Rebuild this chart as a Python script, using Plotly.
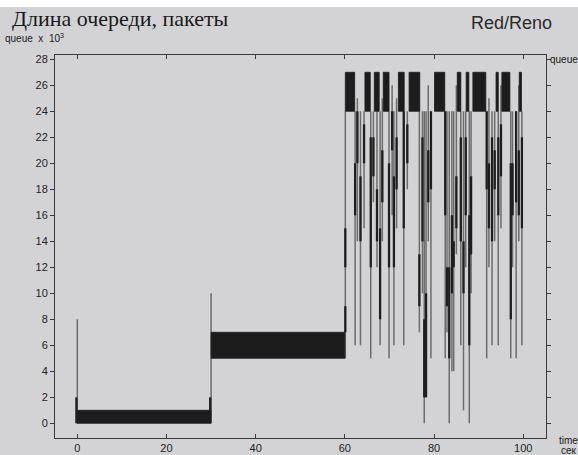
import plotly.graph_objects as go

# ---------------- data ----------------
# solid bands (fast oscillation regions): start, end, low, high  (queue x 10^3)
band_x0 = [0.0, 30.0]
band_x1 = [30.0, 60.0]
band_lo = [0, 5]
band_hi = [1, 7]

# top blocks between 24 and 27
block_x0 = [60.1, 64.5, 66.6, 68.6, 72.0, 74.4, 80.1, 85.2, 87.2, 88.7, 93.9, 95.2, 99.1]
block_x1 = [62.2, 65.7, 67.7, 69.9, 73.3, 76.8, 82.4, 86.0, 87.8, 91.6, 94.4, 97.0, 99.6]
block_lo = 24
block_hi = 27

# queue drops (thin grey vertical strokes)
spike_x = [0.0, 30.0, 60.1, 62.3, 62.8, 63.5, 64.3, 65.8, 66.4, 67.2, 67.9, 68.4, 69.9,
           70.6, 71.0, 71.6, 73.2, 74.0, 76.7, 77.4, 77.8, 78.2, 78.7, 79.3, 82.5, 82.9,
           83.4, 84.0, 84.4, 85.0, 86.0, 86.6, 87.1, 87.9, 88.3, 91.8, 92.3, 93.0, 93.6,
           94.4, 95.0, 97.2, 97.6, 98.4, 99.0, 99.7]
spike_top = [8, 10, 24, 24, 25, 24, 24, 24, 24, 24, 24, 25, 24,
             26, 24, 25, 24, 24, 24, 24, 24, 24, 26, 24, 24, 24,
             24, 24, 24, 26, 24, 24, 24, 24, 24, 24, 25, 24, 24,
             24, 26, 24, 24, 24, 26, 24]
spike_bottom = [0, 0, 5, 6, 14, 6, 15, 5, 17, 12, 6, 14, 5,
                16, 6, 15, 6, 18, 7, 10, 0, 2, 14, 5, 5, 7,
                0, 4, 4, 13, 6, 1, 12, 0, 10, 5, 12, 6, 14,
                6, 15, 5, 12, 5, 14, 6]

# darker (dense) parts of the strokes
dark_x = [-0.2, 29.8, 60.1, 60.1, 62.3, 62.8, 63.5, 64.3, 65.8, 66.4, 67.2, 67.9, 68.4,
          69.9, 70.6, 71.0, 71.6, 73.2, 74.0, 76.7, 77.4, 77.8, 78.2, 78.7, 79.3, 82.5,
          82.9, 83.4, 84.0, 84.4, 85.0, 86.0, 86.6, 87.1, 87.9, 88.3, 91.8, 92.3, 93.0,
          93.6, 94.4, 95.0, 97.2, 97.6, 98.4, 99.0, 99.7]
dark_lo = [0, 1, 7, 12, 16, 20, 14, 20, 12, 19, 14, 8, 17,
           12, 21, 12, 18, 15, 20, 9, 14, 2, 2, 17, 18, 16,
           9, 5, 10, 12, 15, 14, 10, 16, 6, 13, 18, 15, 14,
           18, 16, 19, 8, 16, 17, 16, 15]
dark_hi = [2, 2, 9, 15, 20, 24, 19, 23, 22, 22, 18, 15, 21,
           20, 24, 19, 22, 24, 23, 13, 22, 8, 10, 21, 24, 24,
           12, 12, 16, 14, 19, 22, 14, 22, 16, 19, 24, 20, 22,
           21, 22, 23, 20, 20, 24, 21, 22]

x_ticks = [0, 20, 40, 60, 80, 100]
y_ticks = list(range(0, 29, 2))

# ---------------- build traces ----------------
def rect_path(x0s, x1s, los, his):
    xs, ys = [], []
    for a, b, lo, hi in zip(x0s, x1s, los, his):
        xs += [a, b, b, a, a, None]
        ys += [lo, lo, hi, hi, lo, None]
    return xs, ys

def seg_path(xs_in, los, his):
    xs, ys = [], []
    for x, lo, hi in zip(xs_in, los, his):
        xs += [x, x, None]
        ys += [lo, hi, None]
    return xs, ys

fig = go.Figure()

sx, sy = seg_path(spike_x, spike_bottom, spike_top)
fig.add_trace(go.Scatter(x=sx, y=sy, mode="lines",
                         line=dict(color="#6c6c6c", width=1.5),
                         hoverinfo="skip", showlegend=False))

dx, dy = seg_path(dark_x, dark_lo, dark_hi)
fig.add_trace(go.Scatter(x=dx, y=dy, mode="lines",
                         line=dict(color="#1e1e1e", width=2.3),
                         hoverinfo="skip", showlegend=False))

bx, by = rect_path(band_x0, band_x1, band_lo, band_hi)
fig.add_trace(go.Scatter(x=bx, y=by, mode="lines", fill="toself",
                         fillcolor="#1c1c1c", line=dict(color="#1c1c1c", width=0.8),
                         hoverinfo="skip", showlegend=False))

kx, ky = rect_path(block_x0, block_x1, [block_lo] * len(block_x0), [block_hi] * len(block_x0))
fig.add_trace(go.Scatter(x=kx, y=ky, mode="lines", fill="toself",
                         fillcolor="#1c1c1c", line=dict(color="#1c1c1c", width=0.8),
                         hoverinfo="skip", showlegend=False))

# ---------------- layout ----------------
W, H = 578, 455
L, R, T, B = 55, 32, 55, 17
pw, ph = W - L - R, H - T - B

def px(xp):
    return (xp - L) / pw

def py(yp):
    return (H - B - yp) / ph

bg = "#d3d3d5"
axis_common = dict(showline=True, linecolor="#3a3a3a", linewidth=1, mirror="ticks",
                   showgrid=False, zeroline=False, tickcolor="#3a3a3a", ticklen=4,
                   tickfont=dict(family="Liberation Sans, Arial", size=11, color="#222"))

fig.update_layout(
    width=W, height=H,
    margin=dict(l=L, r=R, t=T, b=B, autoexpand=False),
    paper_bgcolor=bg, plot_bgcolor=bg,
    xaxis=dict(range=[-5, 105.1], tickvals=x_ticks, ticks="inside", **axis_common),
    yaxis=dict(range=[-1.13, 28.33], tickvals=y_ticks, ticks="outside", **axis_common),
    shapes=[dict(type="rect", xref="paper", yref="paper",
                 x0=px(0), x1=px(W), y0=py(7), y1=py(0),
                 fillcolor="white", line=dict(width=0), layer="above")],
    annotations=[
        dict(text="Длина очереди, пакеты", xref="paper", yref="paper",
             x=px(10), y=py(19), xanchor="left", yanchor="middle", showarrow=False,
             font=dict(family="Liberation Serif, Times New Roman", size=22, color="#1a1a1a")),
        dict(text="queue  x  10<sup>3</sup>", xref="paper", yref="paper",
             x=px(3), y=py(38), xanchor="left", yanchor="middle", showarrow=False,
             font=dict(family="Liberation Sans, Arial", size=10, color="#1a1a1a")),
        dict(text="Red/Reno", xref="paper", yref="paper",
             x=px(554), y=py(23), xanchor="right", yanchor="middle", showarrow=False,
             font=dict(family="Liberation Sans, Arial", size=18, color="#2a2a2a")),
        dict(text="queue", xref="paper", yref="paper",
             x=px(548), y=py(60), xanchor="left", yanchor="middle", showarrow=False,
             font=dict(family="Liberation Sans, Arial", size=10, color="#1a1a1a")),
        dict(text="time", xref="paper", yref="paper",
             x=px(557), y=py(440), xanchor="left", yanchor="middle", showarrow=False,
             font=dict(family="Liberation Sans, Arial", size=10, color="#1a1a1a")),
        dict(text="сек", xref="paper", yref="paper",
             x=px(559), y=py(450), xanchor="left", yanchor="middle", showarrow=False,
             font=dict(family="Liberation Sans, Arial", size=10, color="#1a1a1a")),
    ],
)

fig.write_html("out.html", config={"displayModeBar": False},
               post_script="document.body.style.margin='0';document.body.style.overflow='hidden';")
